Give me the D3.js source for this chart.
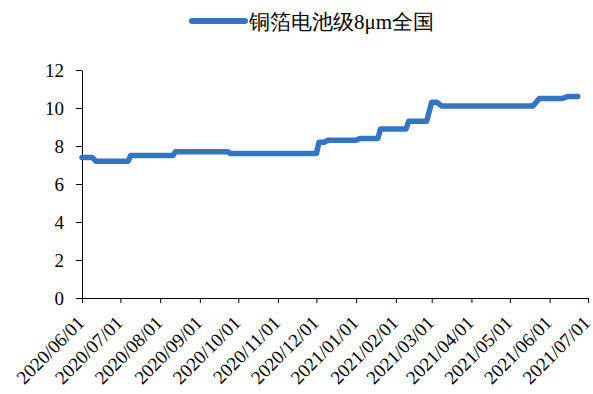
<!DOCTYPE html>
<html>
<head>
<meta charset="utf-8">
<script src="https://cdn.jsdelivr.net/npm/d3@7/dist/d3.min.js"></script>
</head>
<body style="margin:0">
<svg id="chart" width="593" height="394" font-family="Liberation Serif" style="font-family: 'Liberation Serif', 'Times New Roman', serif"></svg>
<script>
// Copper foil price series, battery grade 8μm, national average
const seriesName = "铜箔电池级8μm全国";
const dates = [
  "2020-06-01", "2020-06-09", "2020-06-12",
  "2020-07-07", "2020-07-09",
  "2020-08-11", "2020-08-13",
  "2020-09-23", "2020-09-25",
  "2020-12-01", "2020-12-03",
  "2020-12-07", "2020-12-10",
  "2021-01-01", "2021-01-04",
  "2021-01-18", "2021-01-20",
  "2021-02-09", "2021-02-11",
  "2021-02-25", "2021-03-01", "2021-03-05", "2021-03-09",
  "2021-05-19", "2021-05-24",
  "2021-06-11", "2021-06-15", "2021-06-23"
];
const values = [
  7.4, 7.4, 7.2,
  7.2, 7.5,
  7.5, 7.7,
  7.7, 7.6,
  7.6, 8.2,
  8.2, 8.3,
  8.3, 8.4,
  8.4, 8.9,
  8.9, 9.3,
  9.3, 10.3, 10.3, 10.1,
  10.1, 10.5,
  10.5, 10.6, 10.6
];
const xTickLabels = [
  "2020/06/01", "2020/07/01", "2020/08/01", "2020/09/01", "2020/10/01",
  "2020/11/01", "2020/12/01", "2021/01/01", "2021/02/01", "2021/03/01",
  "2021/04/01", "2021/05/01", "2021/06/01", "2021/07/01"
];
const yTicks = [0, 2, 4, 6, 8, 10, 12];

const parseDay = d3.timeParse("%Y-%m-%d");
const parseTick = d3.timeParse("%Y/%m/%d");
const fmtTick = d3.timeFormat("%Y/%m/%d");
const points = dates.map((d, i) => ({ date: parseDay(d), value: values[i] }));
const tickDates = xTickLabels.map(parseTick);

const svg = d3.select("#chart");
const plotLeft = 82, plotRight = 588, plotTop = 70, plotBottom = 298;
const lineColor = "#3474C5";

const x = d3.scaleTime()
  .domain([tickDates[0], tickDates[tickDates.length - 1]])
  .range([plotLeft, plotRight]);
const y = d3.scaleLinear().domain([0, 12]).range([plotBottom, plotTop]);

// Y axis
svg.append("g")
  .attr("transform", `translate(${plotLeft},0)`)
  .call(d3.axisLeft(y).tickValues(yTicks).tickSize(6).tickPadding(12).tickSizeOuter(0))
  .attr("font-family", "Liberation Serif")
  .attr("font-size", 19)
  .selectAll("text")
  .attr("fill", "#000")
  .attr("font-family", "Liberation Serif");

// X axis with rotated date labels
svg.append("g")
  .attr("transform", `translate(0,${plotBottom})`)
  .call(d3.axisBottom(x).tickValues(tickDates).tickFormat(fmtTick).tickSize(5).tickSizeOuter(0))
  .attr("font-family", "Liberation Serif")
  .attr("font-size", 19)
  .selectAll("text")
  .attr("fill", "#000")
  .attr("font-family", "Liberation Serif")
  .attr("x", 0).attr("y", 0).attr("dy", 0)
  .attr("text-anchor", "end")
  .attr("transform", "translate(3,26) rotate(-45)");

svg.selectAll(".domain, .tick line").attr("stroke", "#000").attr("stroke-width", 1);

// Price line
const line = d3.line().x(d => x(d.date)).y(d => y(d.value));
svg.append("path")
  .datum(points)
  .attr("d", line)
  .attr("fill", "none")
  .attr("stroke", lineColor)
  .attr("stroke-width", 5.5)
  .attr("stroke-linejoin", "round")
  .attr("stroke-linecap", "round");

// Legend
const legend = svg.append("g");
legend.append("line")
  .attr("x1", 192).attr("x2", 245).attr("y1", 21).attr("y2", 21)
  .attr("stroke", lineColor).attr("stroke-width", 6).attr("stroke-linecap", "round");
legend.append("text")
  .attr("x", 249).attr("y", 29)
  .attr("fill", "#000")
  .attr("font-family", "Liberation Serif")
  .attr("font-size", 21)
  .text(seriesName);
</script>
</body>
</html>
